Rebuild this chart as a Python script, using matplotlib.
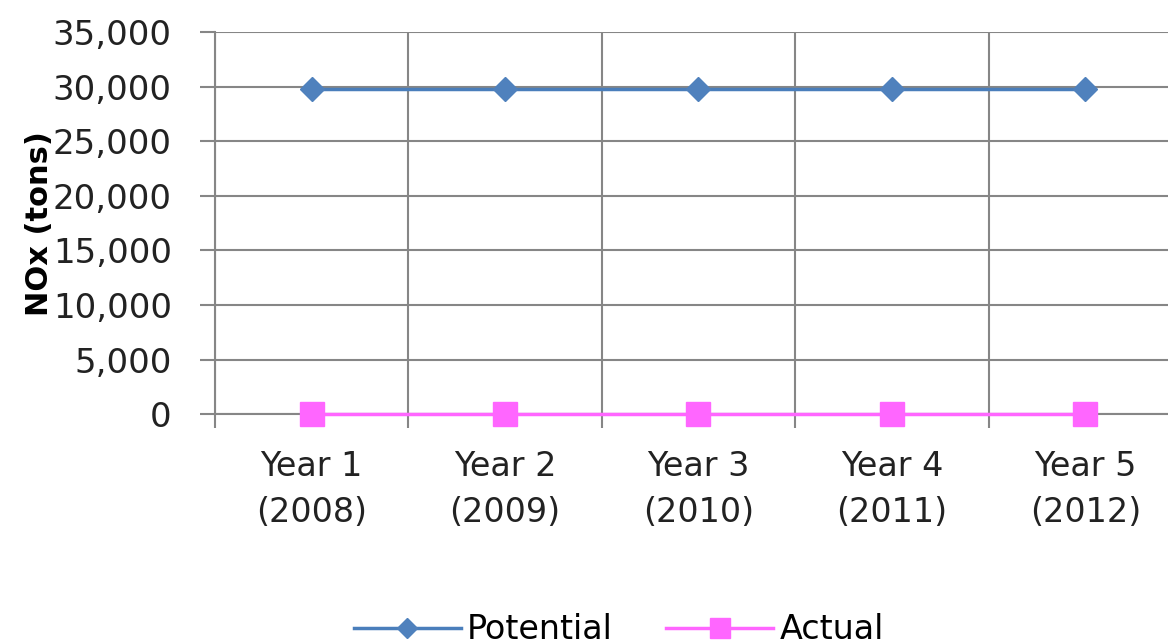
import matplotlib.pyplot as plt
import numpy as np
from matplotlib.ticker import FuncFormatter

categories = ['Year 1\n(2008)', 'Year 2\n(2009)', 'Year 3\n(2010)', 'Year 4\n(2011)', 'Year 5\n(2012)']
potential = [29800, 29800, 29800, 29800, 29800]
actual = [20, 20, 20, 20, 20]

plt.rcParams['font.family'] = 'DejaVu Sans'

fig = plt.figure(figsize=(11.68, 6.44), dpi=100)
ax = fig.add_axes([0.184, 0.357, 0.828, 0.593])

x = np.arange(len(categories))
ax.plot(x, potential, color='#4A7EBB', lw=2.5, marker='D', ms=12,
        mfc='#4F81BD', mec='#4F81BD', label='Potential', zorder=3, clip_on=False)
ax.plot(x, actual, color='#FF66FF', lw=2.5, marker='s', ms=17,
        mfc='#FF66FF', mec='#FF66FF', label='Actual', zorder=3, clip_on=False)

ax.set_xlim(-0.5, len(categories) - 0.5)
ax.set_ylim(0, 35000)
ax.set_yticks(np.arange(0, 35001, 5000))
ax.yaxis.set_major_formatter(FuncFormatter(lambda v, p: f'{int(v):,}'))
ax.set_xticks(x)
ax.set_xticklabels(categories, fontsize=24, color='#222222', linespacing=1.5)
ax.set_xticks(np.arange(-0.5, len(categories)), minor=True)

ax.tick_params(axis='y', labelsize=24.5, length=11, width=1.5, color='#868686',
               pad=20, labelcolor='#222222')
ax.tick_params(axis='x', which='major', length=0, pad=26)
ax.tick_params(axis='x', which='minor', length=10, width=1.5, color='#868686')

ax.grid(axis='y', color='#868686', lw=1.5)
ax.grid(axis='x', which='minor', color='#868686', lw=1.5)
ax.set_axisbelow(True)

for s in ['top', 'right']:
    ax.spines[s].set_visible(False)
ax.spines['left'].set_color('#868686')
ax.spines['left'].set_linewidth(1.5)
ax.spines['bottom'].set_color('#868686')
ax.spines['bottom'].set_linewidth(1.5)

ax.set_ylabel('NOx (tons)', fontsize=22, fontweight='bold')
ax.yaxis.set_label_coords(-0.166, 0.5)

fig.legend(loc='center', bbox_to_anchor=(0.53, 0.022), ncol=2, frameon=False,
           fontsize=24, handlelength=3.2, handletextpad=0.2, columnspacing=1.6,
           markerscale=0.85)

fig.savefig('out.png', dpi=100)
